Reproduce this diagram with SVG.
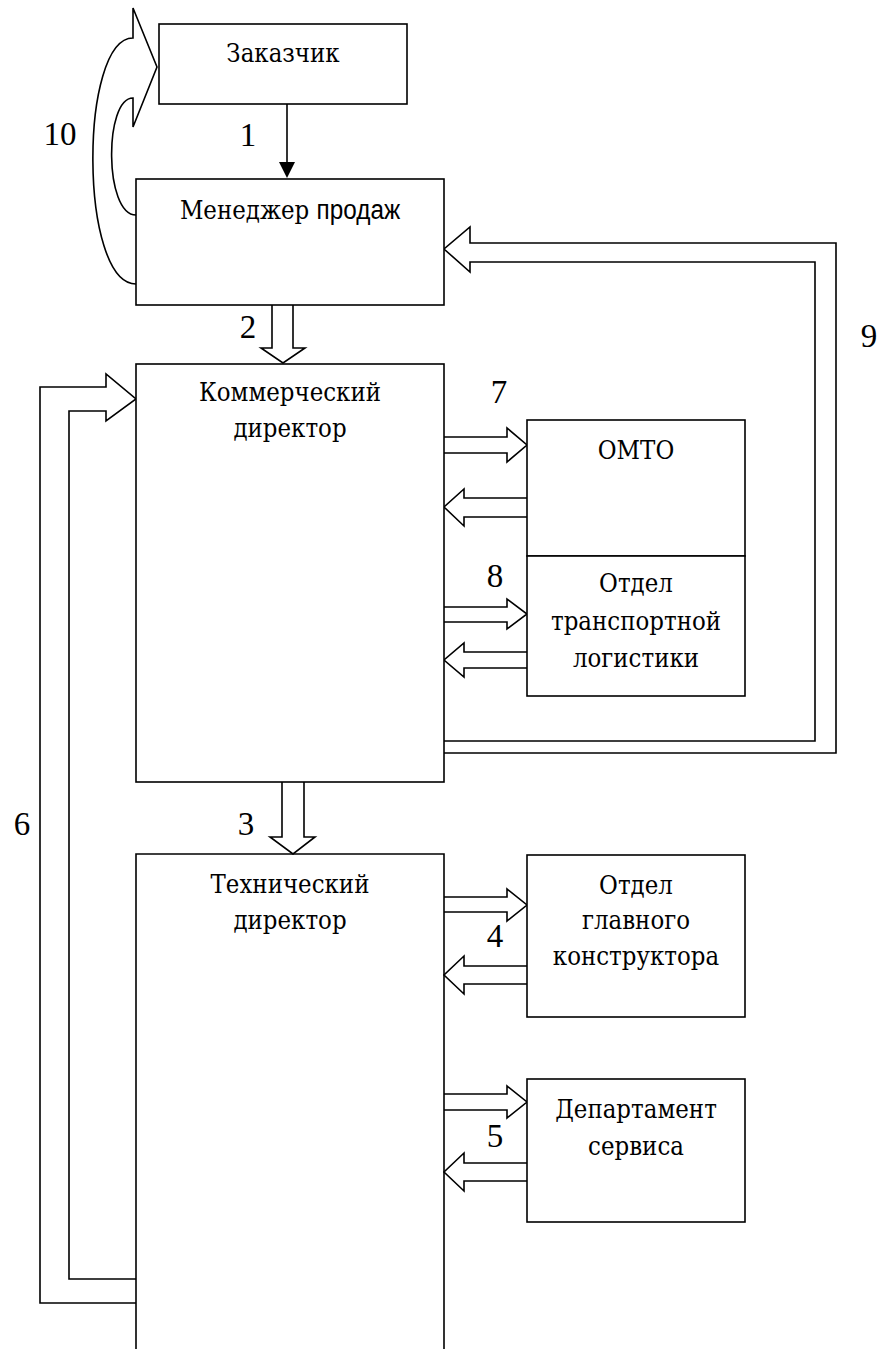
<svg xmlns="http://www.w3.org/2000/svg" width="890" height="1349" viewBox="0 0 890 1349">
  <style>
    .box { fill: #fff; stroke: #000; stroke-width: 1.6; }
    .edge { fill: none; stroke: #000; stroke-width: 1.6; stroke-linejoin: miter; }
    .blk { fill: #fff; stroke: #000; stroke-width: 1.6; stroke-linejoin: miter; }
    .t { font-family: "DejaVu Serif", "Liberation Serif", serif; font-size: 25.5px; fill: #000; text-anchor: middle;
         transform-box: fill-box; transform-origin: center; transform: scaleX(0.9); }
    .s { font-family: "Liberation Sans", "DejaVu Sans", sans-serif; font-size: 27px; }
    .n { font-family: "Liberation Serif", "Times New Roman", serif; font-size: 33px; fill: #000; text-anchor: middle; }
  </style>
  <rect width="890" height="1349" fill="#fff"/>

  <!-- connectors -->
  <g id="connectors">
    <!-- 1: Заказчик -> Менеджер -->
    <line class="edge" x1="287" y1="104" x2="287" y2="164"/>
    <path d="M279,162 L295,162 L287,178 Z" fill="#000"/>
    <!-- 10: loop from Менеджер back to Заказчик -->
    <path class="blk" d="M136,284 C79,284 79,38 133,38 L133,8 L157,67 L133,127 L133,98 C104,98 104,215 136,215"/>
    <!-- 2 -->
    <path class="blk" d="M272,305 L272,348 L261,348 L283,363 L305,348 L293,348 L293,305"/>
    <!-- 3 -->
    <path class="blk" d="M282,782 L282,837 L270,837 L293,854 L315,837 L304,837 L304,782"/>
    <!-- 7 -->
    <path class="blk" d="M444,437 L507,437 L507,428 L527,445 L507,462 L507,453 L444,453"/>
    <path class="blk" d="M527,498 L464,498 L464,489 L444,507 L464,526 L464,517 L527,517"/>
    <!-- 8 -->
    <path class="blk" d="M444,607 L507,607 L507,599 L527,614 L507,629 L507,622 L444,622"/>
    <path class="blk" d="M527,652 L464,652 L464,643 L444,660 L464,677 L464,668 L527,668"/>
    <!-- 4 -->
    <path class="blk" d="M444,897 L507,897 L507,889 L527,905 L507,921 L507,912 L444,912"/>
    <path class="blk" d="M527,966 L464,966 L464,956 L444,975 L464,994 L464,984 L527,984"/>
    <!-- 5 -->
    <path class="blk" d="M444,1094 L507,1094 L507,1086 L527,1102 L507,1118 L507,1110 L444,1110"/>
    <path class="blk" d="M527,1163 L464,1163 L464,1153 L444,1172 L464,1191 L464,1181 L527,1181"/>
    <!-- 9: Коммерческий директор -> Менеджер продаж -->
    <path class="blk" d="M444,753 L836,753 L836,243 L470,243 L470,227 L444,249 L470,272 L470,262 L815,262 L815,741 L444,741"/>
    <!-- 6: Технический директор -> Коммерческий директор -->
    <path class="blk" d="M136,1303 L40,1303 L40,387 L106,387 L106,374 L136,399 L106,421 L106,411 L69,411 L69,1279 L136,1279"/>
  </g>

  <g id="n-zakazchik">
    <rect class="box" x="159" y="24" width="248" height="80"/>
    <text class="t" x="283" y="62">Заказчик</text>
  </g>
  <g id="n-manager">
    <rect class="box" x="136" y="179" width="308" height="126"/>
    <text class="t" x="290" y="219">Менеджер <tspan class="s">продаж</tspan></text>
  </g>
  <g id="n-commercial">
    <rect class="box" x="136" y="364" width="308" height="418"/>
    <text class="t" x="290" y="401">Коммерческий</text>
    <text class="t" x="290" y="437">директор</text>
  </g>
  <g id="n-omto">
    <rect class="box" x="527" y="420" width="218" height="136"/>
    <text class="t" x="636" y="459">ОМТО</text>
  </g>
  <g id="n-transport">
    <rect class="box" x="527" y="556" width="218" height="140"/>
    <text class="t" x="636" y="592">Отдел</text>
    <text class="t" x="636" y="630">транспортной</text>
    <text class="t" x="636" y="667">логистики</text>
  </g>
  <g id="n-technical">
    <path class="edge" d="M136,1349 L136,854 L444,854 L444,1349"/>
    <text class="t" x="290" y="893">Технический</text>
    <text class="t" x="290" y="929">директор</text>
  </g>
  <g id="n-designer">
    <rect class="box" x="527" y="855" width="218" height="162"/>
    <text class="t" x="636" y="894">Отдел</text>
    <text class="t" x="636" y="929">главного</text>
    <text class="t" x="636" y="965">конструктора</text>
  </g>
  <g id="n-service">
    <rect class="box" x="527" y="1079" width="218" height="143"/>
    <text class="t" x="636" y="1118">Департамент</text>
    <text class="t" x="636" y="1155">сервиса</text>
  </g>

  <g id="labels">
    <text class="n" x="248" y="146">1</text>
    <text class="n" x="60" y="145">10</text>
    <text class="n" x="248" y="338">2</text>
    <text class="n" x="246" y="835">3</text>
    <text class="n" x="495" y="947">4</text>
    <text class="n" x="495" y="1147">5</text>
    <text class="n" x="22" y="835">6</text>
    <text class="n" x="499" y="403">7</text>
    <text class="n" x="495" y="587">8</text>
    <text class="n" x="869" y="347">9</text>
  </g>
</svg>
